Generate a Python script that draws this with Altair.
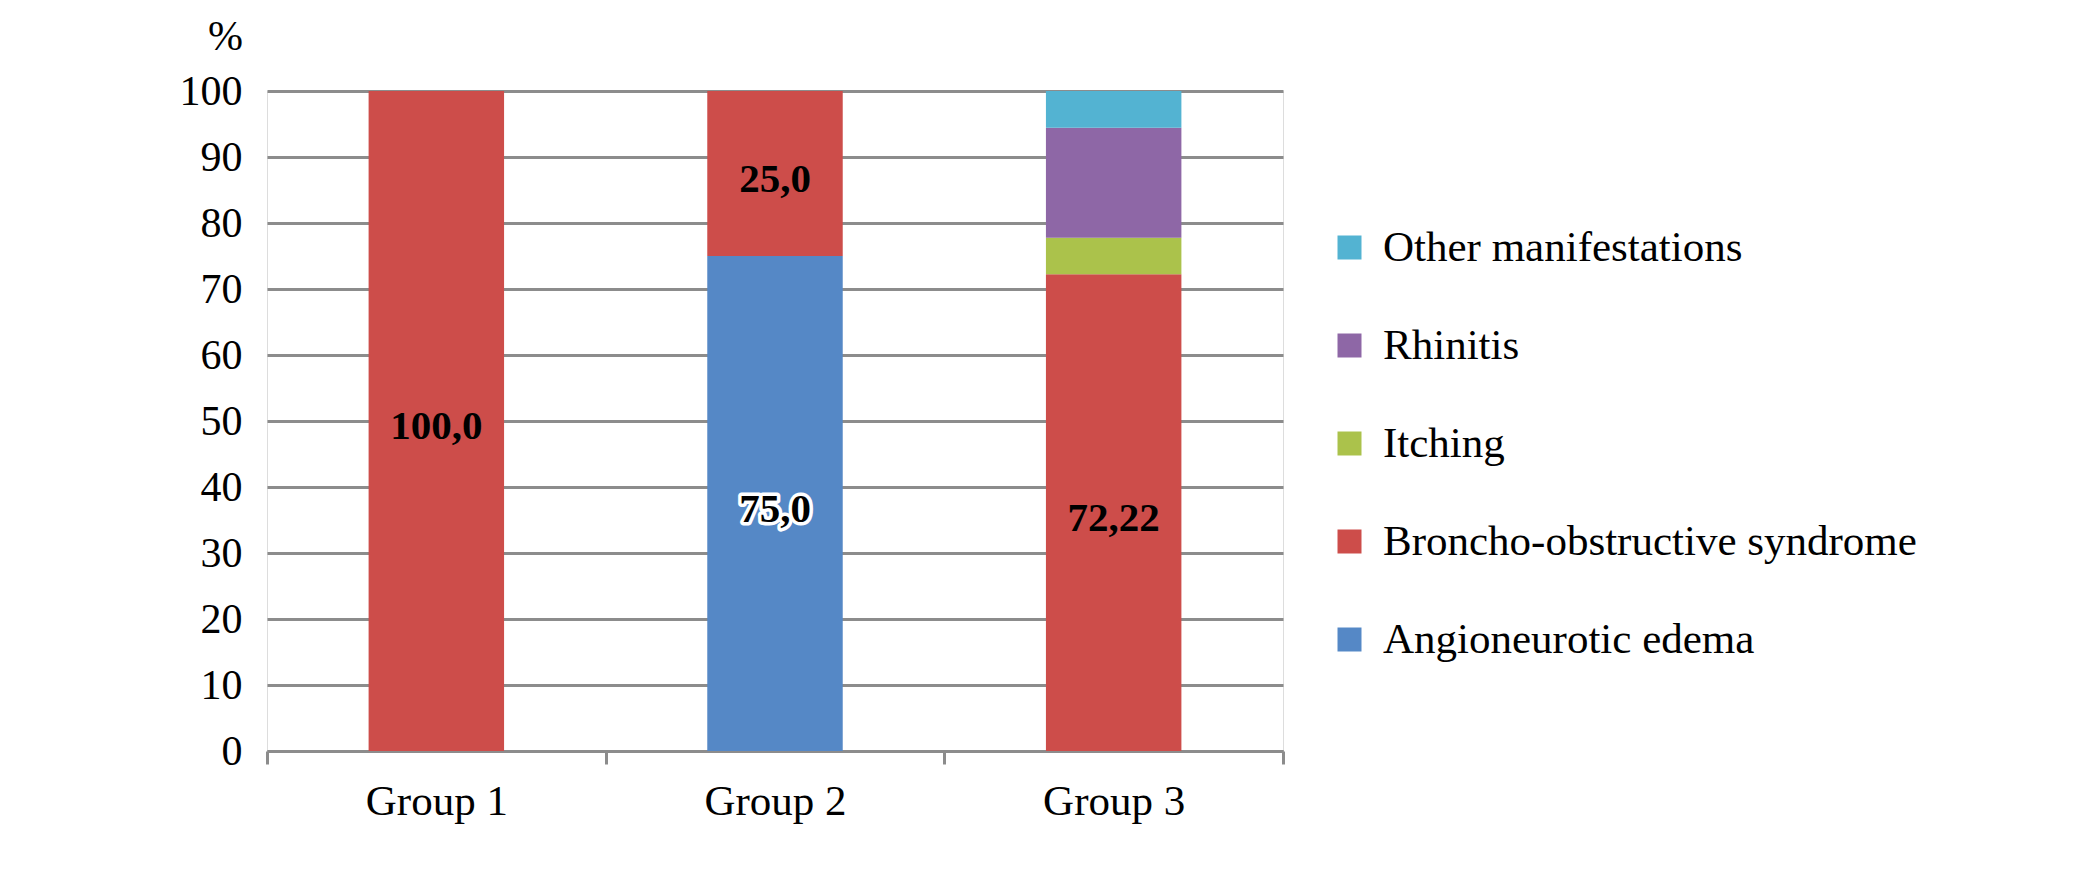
import altair as alt
import pandas as pd

groups = ["Group 1", "Group 2", "Group 3"]
categories = ["Angioneurotic edema", "Broncho-obstructive syndrome", "Itching", "Rhinitis", "Other manifestations"]
legend_order = ["Other manifestations", "Rhinitis", "Itching", "Broncho-obstructive syndrome", "Angioneurotic edema"]
colors = {
    "Angioneurotic edema": "#5588C6",
    "Broncho-obstructive syndrome": "#CD4D4A",
    "Itching": "#ABC24B",
    "Rhinitis": "#8E67A6",
    "Other manifestations": "#53B3D2",
}

angio = [0, 75.0, 0]
broncho = [100.0, 25.0, 72.22]
itching = [0, 0, 5.56]
rhinitis = [0, 0, 16.66]
other = [0, 0, 5.56]

angio_labels = ["", "75,0", ""]
broncho_labels = ["100,0", "25,0", "72,22"]
halo = {("Group 2", "Angioneurotic edema"): 1}

series = [angio, broncho, itching, rhinitis, other]
series_labels = [angio_labels, broncho_labels, ["", "", ""], ["", "", ""], ["", "", ""]]

rows = []
for ci, (cat, vals, labs) in enumerate(zip(categories, series, series_labels)):
    for gi, g in enumerate(groups):
        if vals[gi] > 0:
            rows.append({
                "group": g,
                "category": cat,
                "value": vals[gi],
                "order": ci,
                "label": labs[gi],
                "halo": halo.get((g, cat), 0),
            })
df = pd.DataFrame(rows)

FONT = "Liberation Serif, Times New Roman, serif"

base = alt.Chart(df).transform_stack(
    stack="value", groupby=["group"], as_=["y0", "y1"], sort=[alt.SortField("order")]
).transform_calculate(mid="(datum.y0 + datum.y1) / 2")

x_scale = alt.Scale(paddingInner=0, paddingOuter=0)
y_scale = alt.Scale(domain=[0, 100], nice=False)

x_axis = alt.Axis(
    labelAngle=0,
    labelFont=FONT,
    labelFontSize=43,
    labelColor="#000000",
    labelPadding=16,
    domainColor="#8C8C8C",
    domainWidth=3,
    tickColor="#8C8C8C",
    tickWidth=3,
    tickSize=13,
    tickBand="extent",
    grid=False,
)

y_axis = alt.Axis(
    values=list(range(0, 101, 10)),
    title="%",
    titleAngle=0,
    titleFont=FONT,
    titleFontSize=42,
    titleFontWeight="normal",
    titleColor="#000000",
    titleAlign="center",
    titleBaseline="middle",
    titleX=-42,
    titleY=-55,
    labelFont=FONT,
    labelFontSize=42,
    labelColor="#000000",
    labelPadding=25,
    domain=False,
    ticks=False,
    grid=True,
    gridColor="#8C8C8C",
    gridWidth=3,
)

x_enc = alt.X("group:N", title=None, sort=groups, scale=x_scale, axis=x_axis)

bars = base.mark_bar(strokeWidth=0, width=alt.RelativeBandSize(0.4)).encode(
    x=x_enc,
    y=alt.Y("y0:Q", scale=y_scale, axis=y_axis),
    y2="y1:Q",
    color=alt.Color(
        "category:N",
        scale=alt.Scale(domain=legend_order, range=[colors[c] for c in legend_order]),
        legend=alt.Legend(
            title=None,
            orient="none",
            legendX=1061,
            legendY=135,
            symbolType="square",
            symbolSize=576,
            symbolStrokeWidth=0,
            symbolOpacity=1,
            labelFont=FONT,
            labelFontSize=43,
            labelColor="#000000",
            labelOffset=12,
            rowPadding=54,
            labelLimit=600,
        ),
    ),
    order=alt.Order("order:Q"),
)

labels_data = base.transform_filter("datum.label != ''")

halo_text = labels_data.transform_filter("datum.halo == 1").mark_text(
    font=FONT, fontSize=41, fontWeight="bold", color="white", dy=6,
    stroke="white", strokeWidth=7, strokeJoin="round", baseline="middle", align="center"
).encode(x=x_enc, y=alt.Y("mid:Q", scale=y_scale, axis=y_axis, title="%"), text="label:N")

text = labels_data.mark_text(
    font=FONT, fontSize=41, fontWeight="bold", color="black", dy=6, baseline="middle", align="center"
).encode(x=x_enc, y=alt.Y("mid:Q", scale=y_scale, axis=y_axis, title="%"), text="label:N")

chart = alt.layer(bars, halo_text, text).properties(
    width=1016,
    height=660,
    autosize=alt.AutoSizeParams(type="none"),
    padding={"left": 259, "top": 83, "right": 780, "bottom": 100},
).configure_view(strokeWidth=0, stroke="transparent").configure_axis(
    labelFont=FONT, titleFont=FONT
).configure_axisY(
    labelFont=FONT, titleFont=FONT
).configure(background="white", font=FONT)

chart.save("out.html", embed_options={"renderer": "svg", "actions": False})
